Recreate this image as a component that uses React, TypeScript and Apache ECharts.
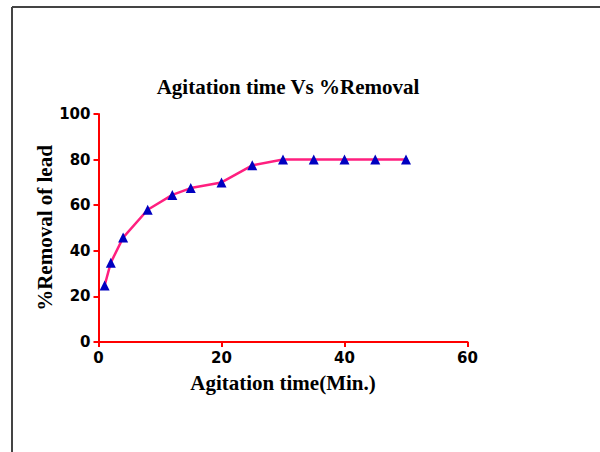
import React, { useEffect, useRef } from "react";
import * as echarts from "echarts";

const times = [1, 2, 4, 8, 12, 15, 20, 25, 30, 35, 40, 45, 50];
const removal = [24.8, 34.8, 45.8, 58, 64.5, 67.5, 70, 77.5, 80, 80, 80, 80, 80];
const xTicks = [0, 20, 40, 60];
const yTicks = [0, 20, 40, 60, 80, 100];

export default function App() {
  const ref = useRef<HTMLDivElement>(null);
  useEffect(() => {
    document.body.style.margin = "0";
    const chart = echarts.init(ref.current!, null, { renderer: "svg" });
    const serif = { fontFamily: "Liberation Serif", fontWeight: "bold" as const, fontSize: 21, color: "#000" };
    const tickLabel = { fontFamily: "DejaVu Sans", fontWeight: "bold" as const, fontSize: 15, color: "#000", margin: 8 };
    chart.setOption({
      animation: false,
      backgroundColor: "#ffffff",
      title: {
        text: "Agitation time Vs %Removal",
        left: 283,
        textAlign: "center",
        top: 71,
        textStyle: serif,
      },
      graphic: [
        { type: "line", shape: { x1: 12, y1: 7, x2: 600, y2: 7 }, style: { stroke: "#444", lineWidth: 2 } },
        { type: "line", shape: { x1: 12, y1: 7, x2: 12, y2: 452 }, style: { stroke: "#444", lineWidth: 2 } },
      ],
      grid: { left: 98.5, right: 132.5, top: 114, bottom: 110 },
      xAxis: {
        type: "value",
        min: xTicks[0],
        max: xTicks[xTicks.length - 1],
        interval: 20,
        name: "Agitation time(Min.)",
        nameLocation: "middle",
        nameGap: 30,
        nameMoveOverlap: false,
        nameTextStyle: serif,
        axisLine: { show: true, lineStyle: { color: "#ff0000", width: 2 } },
        axisTick: { show: true, length: 5, lineStyle: { color: "#ff0000", width: 2 } },
        axisLabel: tickLabel,
        splitLine: { show: false },
      },
      yAxis: {
        type: "value",
        min: yTicks[0],
        max: yTicks[yTicks.length - 1],
        interval: 20,
        name: "%Removal of lead",
        nameLocation: "middle",
        nameGap: 43,
        nameMoveOverlap: false,
        nameRotate: 90,
        nameTextStyle: serif,
        axisLine: { show: true, lineStyle: { color: "#ff0000", width: 2 } },
        axisTick: { show: true, length: 5, lineStyle: { color: "#ff0000", width: 2 } },
        axisLabel: tickLabel,
        splitLine: { show: false },
      },
      series: [
        {
          type: "line",
          data: times.map((t, i) => [t, removal[i]]),
          symbol: "triangle",
          symbolSize: 10,
          lineStyle: { color: "#ff1f7f", width: 2.5 },
          itemStyle: { color: "#0000c0" },
        },
      ],
    });
    return () => chart.dispose();
  }, []);
  return <div ref={ref} style={{ position: "absolute", left: 0, top: 0, width: 600, height: 452 }} />;
}
